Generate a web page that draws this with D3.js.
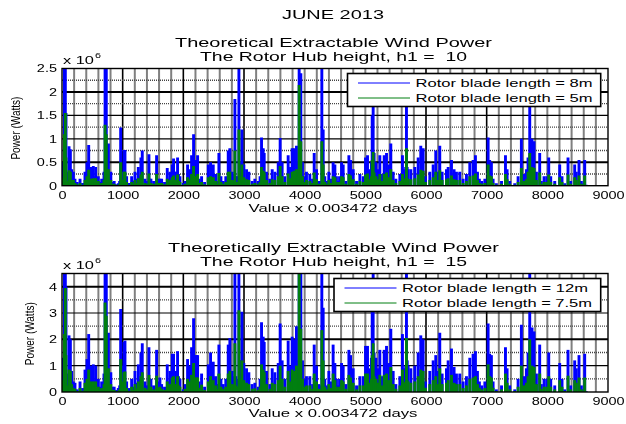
<!DOCTYPE html>
<html>
<head>
<meta charset="utf-8">
<script src="https://cdn.jsdelivr.net/npm/d3@7"></script>
<style>
  html, body { margin: 0; padding: 0; background: #fff; }
  svg { display: block; filter: blur(0.35px); }
  text { font-family: "Liberation Sans", Arial, sans-serif; fill: #000; }
</style>
</head>
<body>
<div id="chart"></div>
<script>
// sample position, in steps of 0.003472 days
const steps = [
  0,15,30,39,55,66,85,116,127,138,
  160,187,214,250,297,340,379,412,440,460,
  478,497,516,535,555,575,599,625,654,675,
  692,710,730,745,765,780,805,830,860,900,
  928,950,967,985,1000,1021,1030,1038,1065,1100,
  1148,1175,1203,1230,1258,1280,1301,1323,1367,1400,
  1433,1450,1466,1510,1559,1585,1614,1642,1690,1735,
  1760,1779,1817,1839,1855,1872,1905,1920,1944,1999,
  2030,2070,2090,2108,2136,2169,2191,2218,2235,2260,
  2301,2350,2411,2430,2449,2470,2493,2531,2560,2586,
  2620,2658,2700,2740,2767,2806,2835,2850,2865,2895,
  2916,2930,2943,2965,2985,2998,3042,3080,3135,3179,
  3234,3265,3289,3316,3333,3371,3426,3465,3509,3564,
  3596,3629,3673,3728,3767,3794,3827,3865,3893,3909,
  3925,3937,3964,4000,4030,4085,4130,4157,4195,4233,
  4265,4283,4305,4332,4360,4398,4435,4469,4498,4524,
  4542,4575,4608,4635,4679,4729,4756,4800,4855,4910,
  4965,5003,5036,5074,5100,5113,5129,5145,5175,5212,
  5239,5275,5311,5349,5387,5420,5459,5503,5569,5612,
  5645,5665,5678,5690,5706,5750,5816,5871,5914,5953,
  5991,6063,6118,6161,6195,6227,6266,6337,6365,6420,
  6463,6502,6557,6612,6667,6722,6776,6815,6848,6880,
  6920,6970,7024,7050,7078,7106,7160,7245,7310,7337,
  7380,7463,7518,7572,7611,7655,7682,7710,7748,7781,
  7820,7874,7902,7946,7990,8023,8056,8122,8204,8242,
  8286,8341,8385,8451,8478,8522,8561,8600,8616,8640,
];

// power x 10^6 W. values above the axis top are cut off there
const blade8m = [
  .1,.5,.45,2.9,2.9,1.55,.3,.84,.3,.78,
  .35,.3,.15,.08,.15,.06,.3,.5,.87,.3,
  .4,.15,.42,.2,.4,.15,.2,.08,.15,.1,
  .3,2.9,2.9,.5,.9,.25,.3,.08,.1,.03,
  .05,.1,1.24,.2,.3,.76,.3,.76,.2,.06,
  .2,.1,.3,.15,.4,.2,.6,.75,.15,.1,
  .67,.15,.15,.1,.65,.15,.15,.15,.08,.38,
  .15,.3,.45,.58,.3,.3,.6,.25,.2,.06,
  .1,.45,.2,.35,.65,1.1,.55,.55,.65,.15,
  .2,.08,.45,.2,.5,.2,.45,.25,.1,.7,
  .2,.1,.2,.75,.8,.3,.25,1.85,.2,.2,
  2.9,.5,.5,1.2,.4,.45,.35,.3,.1,.15,
  .1,.2,1.03,.8,.7,.3,.15,.35,.3,.5,
  1.02,.5,.2,.65,.4,.8,.8,.85,.5,2.9,
  2.2,2.4,.5,.2,.3,.25,.15,.7,.35,.1,
  .1,2.9,1.2,.2,.1,.3,.15,.5,.45,.2,
  .1,.2,.5,.45,.1,.65,.55,.35,.1,.25,
  .2,.6,.65,.35,.5,1.5,2.3,.7,.5,.35,
  .65,.25,.65,.7,.45,.9,.3,.15,.25,.65,
  .35,.4,2.3,.4,.35,.35,.4,.6,.85,.8,
  .2,.3,.45,.75,.3,.85,.3,.35,.4,.55,
  .35,.3,.3,.15,.25,.5,.55,.65,.3,.15,
  .1,.15,1.03,.55,.5,.15,.05,.1,.65,.35,
  .1,.05,.2,1,.25,.35,.6,2.3,1,.95,
  .3,.7,.1,.2,.2,.6,.2,.1,.45,.2,
  .05,.6,.1,.45,.3,.55,.1,.05,.55,.02,
];
const blade5m = [
  .05,.15,.18,1.1,1.55,.6,.1,.33,.15,.3,
  .12,.12,.06,.03,.06,.02,.12,.2,.34,.12,
  .15,.06,.16,.08,.16,.06,.1,.03,.06,.04,
  .12,1.3,1.1,.2,.35,.1,.12,.03,.04,.01,
  .02,.04,.5,.08,.12,.3,.12,.3,.08,.02,
  .08,.04,.12,.06,.16,.08,.24,.3,.06,.04,
  .26,.06,.06,.04,.25,.06,.06,.06,.03,.15,
  .06,.12,.18,.22,.12,.12,.24,.1,.08,.02,
  .04,.18,.08,.14,.25,.42,.2,.2,.25,.06,
  .08,.03,.18,.08,.2,.08,.18,.1,.04,.27,
  .08,.04,.08,.3,.3,.12,.1,.75,.08,.08,
  1.2,.2,.2,.45,.16,.18,.14,.12,.04,.06,
  .04,.08,.4,.32,.28,.12,.06,.14,.12,.2,
  .42,.2,.08,.26,.16,.3,.32,.35,.2,2.15,
  .9,.95,.2,.08,.12,.1,.06,.28,.14,.04,
  .04,.95,.45,.08,.04,.12,.06,.2,.18,.08,
  .04,.08,.2,.18,.04,.25,.22,.14,.04,.1,
  .08,.24,.26,.14,.2,.55,.72,.28,.2,.14,
  .25,.1,.25,.28,.18,.35,.12,.06,.1,.25,
  .14,.16,.8,.16,.14,.14,.16,.24,.34,.32,
  .08,.12,.18,.3,.12,.33,.12,.14,.16,.22,
  .14,.12,.12,.06,.1,.2,.22,.26,.12,.06,
  .04,.06,.45,.22,.2,.06,.02,.04,.25,.14,
  .04,.02,.08,.38,.1,.14,.3,.7,.4,.38,
  .12,.28,.04,.08,.08,.24,.08,.04,.18,.08,
  .02,.24,.04,.18,.12,.22,.04,.02,.22,.01,
];
const blade12m = [
  .3,1.3,.4,5,5,4,.7,2.15,.7,2,
  .8,.4,.35,.1,.4,.15,.85,1.25,2.2,.7,
  1,.35,1.05,.45,1,.4,.5,.2,.4,.2,
  .7,5,5,1.2,2.25,.6,.75,.2,.2,.08,
  .15,.25,3.15,.6,1,1.9,.8,1.95,.4,.15,
  .5,.2,.8,.35,1.05,.5,1.5,1.85,.4,.25,
  1.7,.4,.5,.25,1.6,.4,.55,.3,.2,1.05,
  .4,.8,1.45,1.45,.7,.8,1.55,.6,.5,.1,
  .3,1.25,.5,1,1.7,2.8,1.4,1.4,1.4,.4,
  .7,.2,1.05,.5,1.5,.6,1.15,.6,.3,1.8,
  .5,.3,.5,1.8,2.05,.8,.6,5,.6,.5,
  5,1.2,1.2,3.05,1,1.1,.9,.75,.3,.35,
  .2,.5,2.65,2.1,1.9,.8,.3,.9,.75,1.1,
  2.6,1.2,.5,1.95,1,2.1,2,2.5,1.2,5,
  5,5,1.2,.5,.6,.6,.3,1.8,1,.3,
  .25,5,3.2,.5,.25,.8,.4,1.8,1.1,.5,
  .25,.5,1.1,1,.3,1.6,1.4,.9,.25,.6,
  .6,1.75,1.75,.9,1.3,3.7,5,1.5,1.3,.9,
  1.6,.6,1.6,1.75,1.1,2.4,.8,.3,.6,2.2,
  .9,1,5,1.2,1,.9,1,1.5,2.15,2,
  .4,.8,1.2,1.4,.8,2.25,.7,.9,1.2,1.65,
  .95,.7,.7,.4,.6,1.3,1.45,1.55,.8,.4,
  .25,.4,2.6,1.45,1.4,.4,.1,.25,1.7,.9,
  .25,.1,.5,2.55,.6,.9,1.5,5,2.45,2.3,
  .7,1.8,.3,.5,.5,1.5,.5,.25,1.1,.5,
  .1,1.6,.25,1.2,.9,1.4,.25,.1,1.45,.03,
];
const blade7m5 = [
  .1,.45,.2,2.2,3.95,1.4,.25,.85,.3,.8,
  .3,.15,.12,.04,.15,.05,.35,.5,.85,.3,
  .4,.15,.4,.2,.4,.15,.2,.08,.15,.08,
  .3,3.4,2.9,.5,.9,.25,.3,.08,.08,.03,
  .05,.1,1.25,.25,.4,.75,.3,.78,.15,.05,
  .2,.08,.3,.14,.4,.2,.6,.75,.16,.1,
  .65,.16,.2,.1,.62,.16,.2,.12,.08,.4,
  .16,.3,.55,.6,.3,.3,.6,.25,.2,.04,
  .12,.5,.2,.4,.65,1.1,.55,.55,.55,.16,
  .28,.08,.4,.2,.6,.25,.45,.25,.12,.7,
  .2,.12,.2,.7,.8,.3,.25,1.85,.25,.2,
  3.1,.5,.5,1.2,.4,.45,.35,.3,.12,.14,
  .08,.2,1.05,.85,.75,.3,.12,.35,.3,.45,
  1,.5,.2,.8,.4,.85,.8,1,.5,5,
  2.4,2.4,.5,.2,.25,.25,.12,.7,.4,.12,
  .1,2.35,1.2,.2,.1,.3,.15,.7,.45,.2,
  .1,.2,.45,.4,.12,.65,.55,.35,.1,.25,
  .25,.7,.7,.35,.5,1.4,1.85,.6,.5,.35,
  .65,.25,.65,.7,.45,.95,.3,.12,.25,.85,
  .35,.4,2.05,.45,.4,.35,.4,.6,.85,.8,
  .16,.3,.45,.6,.3,.9,.3,.35,.45,.65,
  .35,.3,.3,.15,.25,.5,.55,.6,.3,.16,
  .1,.15,1.05,.6,.55,.16,.04,.1,.7,.35,
  .1,.04,.2,1,.25,.35,.6,2,1,.95,
  .3,.7,.12,.2,.2,.6,.2,.1,.45,.2,
  .04,.62,.1,.45,.35,.55,.1,.04,.55,.01,
];

const xTicks = [0, 1000, 2000, 3000, 4000, 5000, 6000, 7000, 8000, 9000];
const xMinorGrid = d3.range(200, 9000, 200).filter(v => v % 1000 !== 0).concat([4000, 5000, 8000]);
const xMajorGrid = [1000, 2000, 3000, 6000, 7000];
const yTicksTop = [0, 0.5, 1, 1.5, 2, 2.5];
const yTicksBottom = [0, 1, 2, 3, 4];

const width = 626;
const height = 424;
const svg = d3.select('#chart').append('svg')
  .attr('width', width)
  .attr('height', height);

// all the text in the source image is stretched sideways, textLength does that
function fit(sel, len) {
  sel.attr('textLength', len).attr('lengthAdjust', 'spacingAndGlyphs');
}

function stretchTicks(axisG, k) {
  axisG.selectAll('text').each(function () {
    fit(d3.select(this), this.getComputedTextLength() * k);
  });
}

function addText(str, x, y, size, len, anchor) {
  return svg.append('text')
    .attr('x', x)
    .attr('y', y)
    .attr('font-size', size)
    .attr('text-anchor', anchor || 'start')
    .text(str)
    .call(fit, len);
}

function drawPanel(p) {
  const x = d3.scaleLinear().domain([0, 9000]).range([62, 608]);
  const y = d3.scaleLinear().domain([0, p.yMax]).range([p.bottom, p.top]);
  const g = svg.append('g');

  const vGrid = (vals, color, w) => g.append('g').selectAll('line')
    .data(vals).join('line')
    .attr('x1', d => x(d)).attr('x2', d => x(d))
    .attr('y1', p.top).attr('y2', p.bottom)
    .attr('stroke', color).attr('stroke-width', w);
  const hGrid = (vals, color, w, dash) => g.append('g').selectAll('line')
    .data(vals).join('line')
    .attr('x1', 62).attr('x2', 608)
    .attr('y1', d => y(d)).attr('y2', d => y(d))
    .attr('stroke', color).attr('stroke-width', w)
    .attr('stroke-dasharray', dash);

  vGrid(xMinorGrid, '#808080', 2);
  vGrid(xMajorGrid, '#000', 1.6);
  hGrid(p.dotted, '#444', 1.4, '1 1');
  hGrid(p.thin, '#000', 1.2, null);
  hGrid(p.thick, '#000', 2, null);

  const clipId = 'clip-' + p.top;
  svg.append('clipPath').attr('id', clipId).append('rect')
    .attr('x', 62).attr('y', p.top).attr('width', 546).attr('height', p.bottom - p.top);

  // the real trace is so dense it reads as upright strokes, one stem per sample
  p.series.forEach(s => {
    g.append('g')
      .attr('clip-path', `url(#${clipId})`)
      .selectAll('line')
      .data(s.values)
      .join('line')
      .attr('x1', (d, i) => x(steps[i]))
      .attr('x2', (d, i) => x(steps[i]))
      .attr('y1', y(0))
      .attr('y2', d => y(d))
      .attr('stroke', s.color)
      .attr('stroke-width', s.width);
  });

  // box
  g.append('rect')
    .attr('x', 62).attr('y', p.top)
    .attr('width', 546).attr('height', p.bottom - p.top)
    .attr('fill', 'none').attr('stroke', '#000').attr('stroke-width', 1.4);

  const xAxis = g.append('g')
    .attr('transform', `translate(0, ${p.bottom})`)
    .call(d3.axisBottom(x).tickValues(xTicks).tickFormat(d3.format('d')).tickSize(0).tickPadding(6));
  const yAxis = g.append('g')
    .attr('transform', 'translate(62, 0)')
    .call(d3.axisLeft(y).tickValues(p.yTicks).tickFormat(d => String(d)).tickSize(0).tickPadding(5));
  [xAxis, yAxis].forEach(a => {
    a.select('.domain').remove();
    a.attr('font-family', null).attr('font-size', 10.5);
    stretchTicks(a, 1.38);
  });

  // axis scale note
  addText('x 10', 63, p.top - 4.5, 10.5, 31);
  addText('6', 95, p.top - 11, 8, 6);

  // titles and labels
  addText(p.title1, 333.5, p.title1Y, 13, p.title1Len, 'middle');
  addText(p.title2, 333.5, p.title1Y + 14, 13, 267, 'middle');
  addText('Value x 0.003472 days', 333, p.xLabelY, 10.5, 169, 'middle');
  svg.append('text')
    .attr('transform', `translate(${p.yLabelX}, ${(p.top + p.bottom) / 2 + 1}) rotate(-90)`)
    .attr('font-size', 13)
    .attr('text-anchor', 'middle')
    .text('Power (Watts)')
    .call(fit, 63);

  // legend
  const lg = p.legend;
  svg.append('rect')
    .attr('x', lg.x).attr('y', lg.y)
    .attr('width', 600.7 - lg.x).attr('height', 33)
    .attr('fill', '#fff').attr('stroke', '#000').attr('stroke-width', 1.6);
  p.series.forEach((s, i) => {
    const ly = lg.y + 9.5 + i * 15;
    svg.append('line')
      .attr('x1', lg.x + 10.5).attr('x2', lg.x + 62.5)
      .attr('y1', ly).attr('y2', ly)
      .attr('stroke', s.color).attr('stroke-width', 1);
    addText(s.name, lg.x + 68, ly + 4, 10.5, lg.textLen[i]);
  });
}

addText('JUNE 2013', 333, 19, 12, 102, 'middle');

drawPanel({
  top: 68.5,
  bottom: 185.7,
  yMax: 2.5,
  yTicks: yTicksTop,
  thick: [0.5, 2],
  thin: [1, 1.5],
  dotted: [0.25, 0.75, 1.25, 1.75, 2.25],
  title1: 'Theoretical Extractable Wind Power',
  title1Y: 47,
  title1Len: 317,
  title2: 'The Rotor Hub height, h1 = \u00a010',
  xLabelY: 212,
  yLabelX: 20,
  series: [
    { name: 'Rotor blade length = 8m', values: blade8m, color: '#0000ff', width: 2.9 },
    { name: 'Rotor blade length = 5m', values: blade5m, color: '#007f10', width: 2.9 },
  ],
  legend: { x: 347.5, y: 73.5, textLen: [177, 177] },
});

drawPanel({
  top: 273.5,
  bottom: 392,
  yMax: 4.5,
  yTicks: yTicksBottom,
  thick: [2, 4],
  thin: [1, 3],
  dotted: [0.5, 1.5, 2.5, 3.5],
  title1: 'Theoretically Extractable Wind Power',
  title1Y: 252,
  title1Len: 331,
  title2: 'The Rotor Hub height, h1 = \u00a015',
  xLabelY: 417,
  yLabelX: 34,
  series: [
    { name: 'Rotor blade length = 12m', values: blade12m, color: '#0000ff', width: 2.9 },
    { name: 'Rotor blade length = 7.5m', values: blade7m5, color: '#007f10', width: 2.9 },
  ],
  legend: { x: 334, y: 278.5, textLen: [186, 190] },
});
</script>
</body>
</html>
